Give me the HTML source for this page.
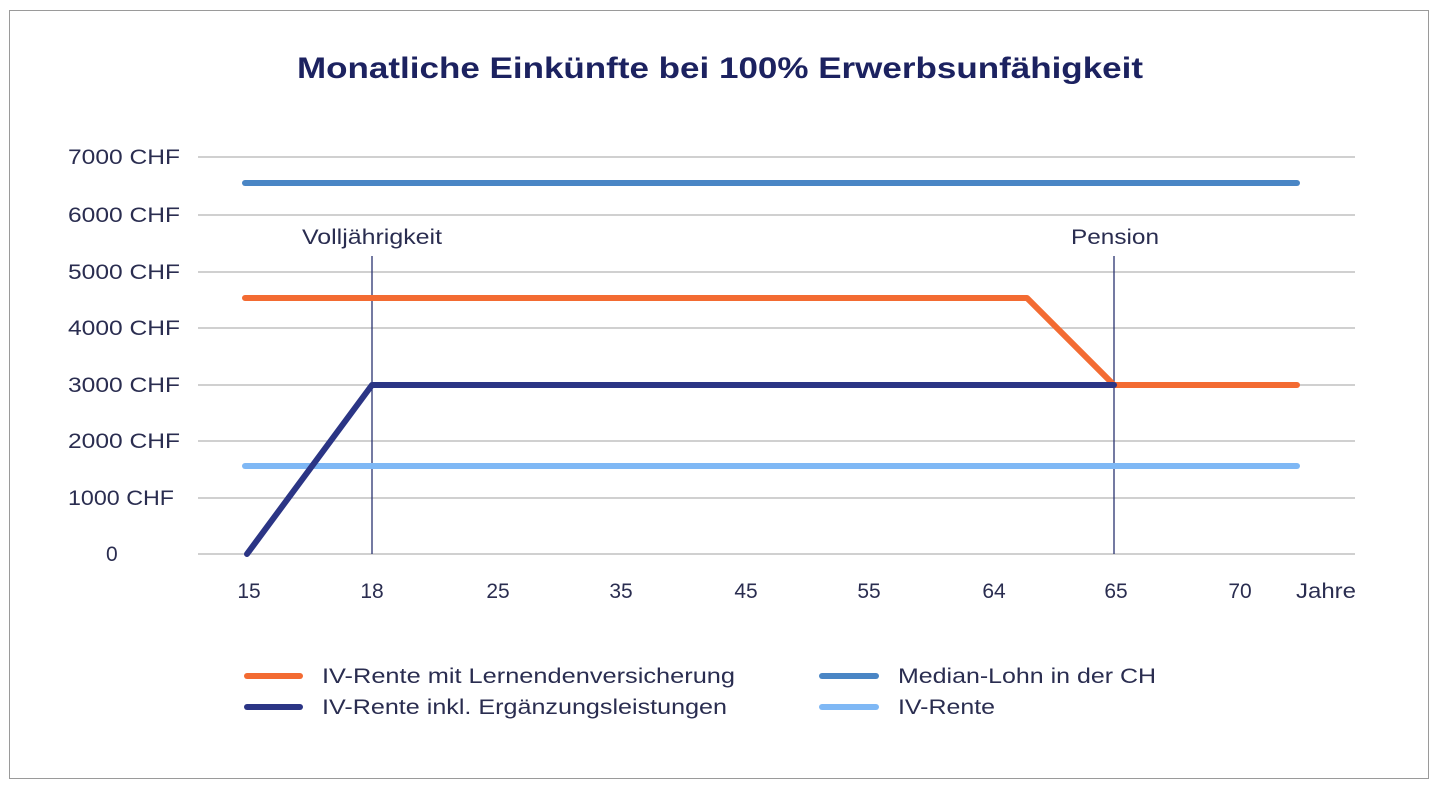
<!DOCTYPE html>
<html><head><meta charset="utf-8"><style>
html,body{margin:0;padding:0;background:#fff;width:1440px;height:792px;overflow:hidden}
svg{display:block}
text{font-family:"Liberation Sans",sans-serif;fill:#2a2d50}
</style></head><body>
<svg width="1440" height="792" viewBox="0 0 1440 792">
<rect x="9.5" y="10.5" width="1419" height="768" fill="#fff" stroke="#9a9a9a" stroke-width="1"/>
<text x="297" y="78" font-size="30" font-weight="bold" textLength="846" lengthAdjust="spacingAndGlyphs" style="fill:#1c2260">Monatliche Einkünfte bei 100% Erwerbsunfähigkeit</text>
<g stroke="#b5b5b5" stroke-width="1.3">
<line x1="198" y1="157" x2="1355" y2="157"/><line x1="198" y1="215" x2="1355" y2="215"/>
<line x1="198" y1="272" x2="1355" y2="272"/><line x1="198" y1="328" x2="1355" y2="328"/>
<line x1="198" y1="385" x2="1355" y2="385"/><line x1="198" y1="441" x2="1355" y2="441"/>
<line x1="198" y1="498" x2="1355" y2="498"/><line x1="198" y1="554" x2="1355" y2="554"/>
</g>
<g font-size="21">
<text x="68" y="164" textLength="112" lengthAdjust="spacingAndGlyphs">7000 CHF</text>
<text x="68" y="222" textLength="112" lengthAdjust="spacingAndGlyphs">6000 CHF</text>
<text x="68" y="279" textLength="112" lengthAdjust="spacingAndGlyphs">5000 CHF</text>
<text x="68" y="335" textLength="112" lengthAdjust="spacingAndGlyphs">4000 CHF</text>
<text x="68" y="392" textLength="112" lengthAdjust="spacingAndGlyphs">3000 CHF</text>
<text x="68" y="448" textLength="112" lengthAdjust="spacingAndGlyphs">2000 CHF</text>
<text x="68" y="505" textLength="106" lengthAdjust="spacingAndGlyphs">1000 CHF</text>
<text x="106" y="561">0</text>
</g>
<g font-size="21" text-anchor="middle">
<text x="249" y="598">15</text><text x="372" y="598">18</text><text x="498" y="598">25</text>
<text x="621" y="598">35</text><text x="746" y="598">45</text><text x="869" y="598">55</text>
<text x="994" y="598">64</text><text x="1116" y="598">65</text><text x="1240" y="598">70</text>
</g>
<g font-size="21">
<text x="1296" y="598" textLength="60" lengthAdjust="spacingAndGlyphs">Jahre</text>
<text x="302" y="244" textLength="140" lengthAdjust="spacingAndGlyphs">Volljährigkeit</text>
<text x="1071" y="244" textLength="88" lengthAdjust="spacingAndGlyphs">Pension</text>
</g>
<line x1="372" y1="256" x2="372" y2="554" stroke="#2a3270" stroke-width="1.3"/>
<line x1="1114" y1="256" x2="1114" y2="554" stroke="#2a3270" stroke-width="1.3"/>
<g fill="none" stroke-width="6" stroke-linecap="round" stroke-linejoin="round">
<line x1="245" y1="183" x2="1297" y2="183" stroke="#4a86c5"/>
<line x1="245" y1="466" x2="1297" y2="466" stroke="#7fb8f5"/>
<polyline points="245,298 1027,298 1114,385 1297,385" stroke="#f36b32"/>
<polyline points="247,554 372,385 1114,385" stroke="#2b3585"/>
<line x1="247" y1="676" x2="300" y2="676" stroke="#f36b32"/>
<line x1="247" y1="707" x2="300" y2="707" stroke="#2b3585"/>
<line x1="822" y1="676" x2="876" y2="676" stroke="#4a86c5"/>
<line x1="822" y1="707" x2="876" y2="707" stroke="#7fb8f5"/>
</g>
<g font-size="21">
<text x="322" y="683" textLength="413" lengthAdjust="spacingAndGlyphs">IV-Rente mit Lernendenversicherung</text>
<text x="322" y="714" textLength="405" lengthAdjust="spacingAndGlyphs">IV-Rente inkl. Ergänzungsleistungen</text>
<text x="898" y="683" textLength="258" lengthAdjust="spacingAndGlyphs">Median-Lohn in der CH</text>
<text x="898" y="714" textLength="97" lengthAdjust="spacingAndGlyphs">IV-Rente</text>
</g>
</svg>
</body></html>
